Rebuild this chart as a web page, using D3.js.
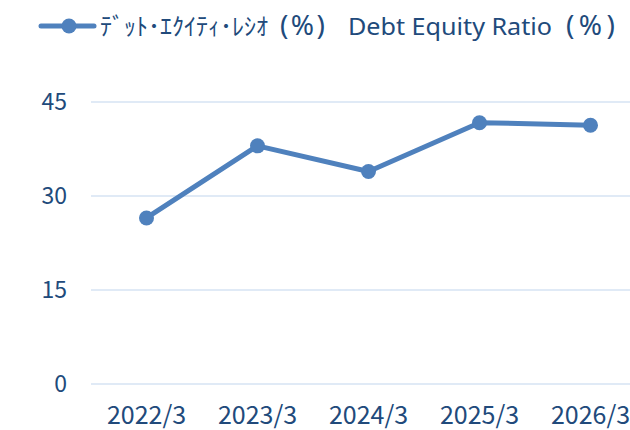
<!DOCTYPE html>
<html>
<head>
<meta charset="utf-8">
<script src="https://cdn.jsdelivr.net/npm/d3@7"></script>
<style>
  body { margin: 0; background: #fff; }
  text { font-family: "Noto Sans CJK JP", "Noto Sans", sans-serif; fill: #214A7B; }
</style>
</head>
<body>
<svg id="chart" width="630" height="430"></svg>
<script>
var categories = ["2022/3", "2023/3", "2024/3", "2025/3", "2026/3"];
var ratios = [26.5, 38.0, 33.9, 41.7, 41.3];
var yTicks = [0, 15, 30, 45];
// legend pieces: text and the span it takes in the original
var legendParts = [
  {text: "ﾃﾞｯﾄ･ｴｸｲﾃｨ･ﾚｼｵ", x: 100, w: 168, font: "Noto Sans CJK JP", size: 24, adjust: "spacingAndGlyphs"},
  {text: "(%)", x: 280, w: 45, font: "Noto Sans", size: 28, adjust: "spacing"},
  {text: "Debt Equity Ratio", x: 348, w: 204, font: "Noto Sans", size: 24, adjust: "spacingAndGlyphs"},
  {text: "(%)", x: 566, w: 49, font: "Noto Sans", size: 28, adjust: "spacing"}
];

var svg = d3.select("#chart");
var lineColor = "#4F81BD";

// plot area runs past the right edge, like the original
var x = d3.scaleBand().domain(categories).range([91, 646]);
var y = d3.scaleLinear().domain([0, 45]).range([384, 102]);

// gridlines
svg.append("g")
  .selectAll("line")
  .data(yTicks)
  .enter()
  .append("line")
  .attr("x1", 91)
  .attr("x2", 630)
  .attr("y1", function(d){ return y(d); })
  .attr("y2", function(d){ return y(d); })
  .attr("stroke", "#D6E3F3")
  .attr("stroke-width", 1.5);

// y labels
svg.append("g")
  .selectAll("text")
  .data(yTicks)
  .enter()
  .append("text")
  .attr("x", 67)
  .attr("y", function(d){ return y(d); })
  .attr("dy", "0.36em")
  .attr("text-anchor", "end")
  .style("font-size", "23px")
  .text(function(d){ return d; });

// x labels
svg.append("g")
  .selectAll("text")
  .data(categories)
  .enter()
  .append("text")
  .attr("x", function(d){ return x(d) + x.bandwidth() / 2; })
  .attr("y", 424)
  .attr("text-anchor", "middle")
  .style("font-size", "25px")
  .text(function(d){ return d; });

var pts = categories.map(function(c, i){ return [x(c) + x.bandwidth() / 2, y(ratios[i])]; });

svg.append("path")
  .attr("d", d3.line()(pts))
  .attr("fill", "none")
  .attr("stroke", lineColor)
  .attr("stroke-width", 5)
  .attr("stroke-linejoin", "round");

svg.append("g")
  .selectAll("circle")
  .data(pts)
  .enter()
  .append("circle")
  .attr("cx", function(d){ return d[0]; })
  .attr("cy", function(d){ return d[1]; })
  .attr("r", 7.5)
  .attr("fill", lineColor);

// legend
var legend = svg.append("g");
legend.append("line")
  .attr("x1", 41).attr("x2", 94)
  .attr("y1", 26).attr("y2", 26)
  .attr("stroke", lineColor)
  .attr("stroke-width", 5)
  .attr("stroke-linecap", "round");
legend.append("circle")
  .attr("cx", 69).attr("cy", 26).attr("r", 7.5)
  .attr("fill", lineColor);
legend.selectAll("text")
  .data(legendParts)
  .enter()
  .append("text")
  .attr("x", function(d){ return d.x; })
  .attr("y", 35)
  .attr("textLength", function(d){ return d.w; })
  .attr("lengthAdjust", function(d){ return d.adjust; })
  .style("font-family", function(d){ return d.font; })
  .style("font-size", function(d){ return d.size + "px"; })
  .text(function(d){ return d.text; });
</script>
</body>
</html>
